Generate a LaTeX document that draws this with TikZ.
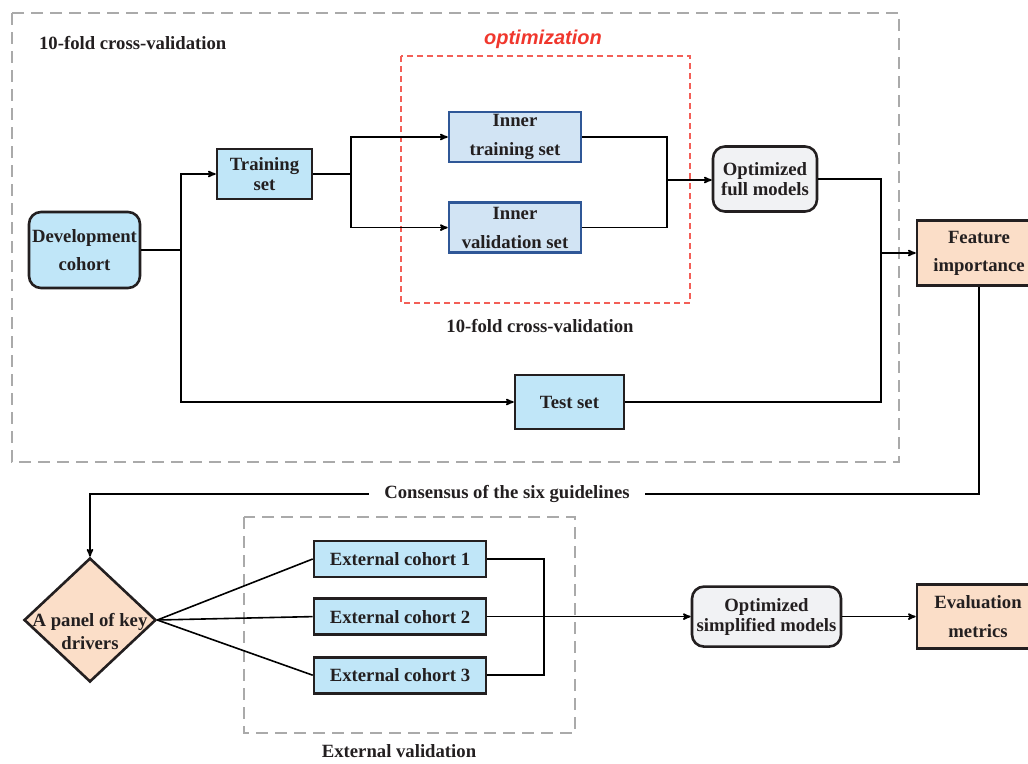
\documentclass[tikz,border=0pt]{standalone}
\usepackage{fontspec}
\setmainfont{Liberation Serif}
\newfontfamily\handfont{Liberation Sans}
\usetikzlibrary{arrows, positioning, shapes.geometric}

\definecolor{ink}{RGB}{35,31,32}
\definecolor{cellblue}{RGB}{192,230,248}
\definecolor{innerblue}{RGB}{210,228,244}
\definecolor{innerline}{RGB}{47,87,151}
\definecolor{modelgray}{RGB}{241,242,244}
\definecolor{peach}{RGB}{251,222,200}
\definecolor{framegray}{RGB}{170,170,170}
\definecolor{optred}{RGB}{240,55,45}

\begin{document}
\begin{tikzpicture}[x=1pt, y=-1pt, line width=1.6pt]
	\tikzset {->, >=stealth', draw=ink,
		every node/.style={text=ink, font=\fontsize{18.7}{20}\selectfont\bfseries, align=center},
		cellbox/.style={draw=ink, line width=2.6pt, fill=cellblue, inner sep=0pt},
		innerbox/.style={draw=innerline, line width=2.6pt, fill=innerblue, inner sep=0pt, minimum width=132pt, minimum height=50pt},
		modelbox/.style={draw=ink, line width=2.6pt, fill=modelgray, rounded corners=12pt, inner sep=0pt},
		resultbox/.style={draw=ink, line width=2.6pt, fill=peach, inner sep=0pt},
		extbox/.style={cellbox, minimum width=172pt, minimum height=36pt},
		frame/.style={-, draw=framegray, line width=2.2pt, dash pattern=on 12pt off 7pt},
		redframe/.style={-, draw=optred!80, line width=1.4pt, dash pattern=on 6pt off 4pt},
		wire/.style={-}
	}
	\useasboundingbox (0,0) rectangle (1028,763);

	% frames
	\draw[frame] (12,13) rectangle (899,462);
	\draw[redframe] (401,56) rectangle (690,303);
	\draw[frame] (244,517) rectangle (575,733);

	\node[anchor=west] (cvtop) at (35,43) {10-fold cross-validation};
	\node[text=optred, font=\handfont\fontsize{20}{22}\selectfont\bfseries\itshape] (optlbl) at (543,39) {optimization};
	\node (cvinner) at (540,326) {10-fold cross-validation};
	\node (extlbl) at (399,751) {External validation};

	% upper part
	\node[cellbox, rounded corners=12pt, minimum width=111pt, minimum height=76pt] (dev) at (84.5,250) {Development\\[8pt]cohort};
	\node[cellbox, minimum width=95pt, minimum height=50pt] (train) at (264.5,174) {Training\\set};
	\node[innerbox] (itrain) at (515,137) {Inner\\[9pt]training set};
	\node[innerbox, below=38pt of itrain] (ival) {Inner\\[9pt]validation set};
	\node[modelbox, minimum width=104pt, minimum height=65pt] (optfull) at (765,179) {Optimized\\full models};
	\node[resultbox, minimum width=124pt, minimum height=65pt] (feat) at (979,253) {Feature\\[8pt]importance};
	\node[cellbox, minimum width=109pt, minimum height=54pt] (test) at (569.5,402) {Test set};

	\coordinate (s1) at (181,250);
	\coordinate (s2) at (351,174);
	\coordinate (s3) at (667,180);
	\coordinate (s4) at (881,253);

	\draw[wire] (dev.east) -- (s1);
	\draw (s1) |- (train.west);
	\draw (s1) |- (test.west);
	\draw[wire] (train.east) -- (s2);
	\draw (s2) |- (itrain.west);
	\draw (s2) |- (ival.west);
	\draw[wire] (itrain.east) -| (s3);
	\draw[wire] (ival.east) -| (s3);
	\draw (s3) -- (optfull.west |- s3);
	\draw[wire] (optfull.east) -| (s4);
	\draw[wire] (test.east) -| (s4);
	\draw (s4) -- (feat.west);

	% lower part
	\node[inner xsep=15pt] (cons) at (507,494) {Consensus of the six guidelines};
	\node[diamond, draw=ink, line width=2.6pt, fill=peach, minimum width=132pt, minimum height=124pt, inner sep=0pt] (panel) at (90,620) {};
	\node (paneltxt) at (90,631) {A panel of key\\[3pt]drivers};
	\node[extbox] (ext1) at (400,559) {External cohort 1};
	\node[extbox, below=19pt of ext1] (ext2) {External cohort 2};
	\node[extbox, below=20pt of ext2] (ext3) {External cohort 3};
	\coordinate (colsimp) at (766.5,0);
	\coordinate (colmetric) at (978,0);
	\node[modelbox, minimum width=149pt, minimum height=60pt] (optsimp) at (ext2 -| colsimp) {Optimized\\simplified models};
	\node[resultbox, minimum width=122pt, minimum height=64pt] (evalm) at (ext2 -| colmetric) {Evaluation\\[9pt]metrics};

	\coordinate (colmerge) at (544,0);
	\coordinate (s5) at (ext2 -| colmerge);

	\draw[wire] (feat.south) |- (cons.east);
	\draw (cons.west) -| (panel.north);
	\draw[wire] (panel.east) -- (ext1.west);
	\draw[wire] (panel.east) -- (ext2.west);
	\draw[wire] (panel.east) -- (ext3.west);
	\draw[wire] (ext1.east) -| (s5);
	\draw[wire] (ext3.east) -| (s5);
	\draw (ext2.east) -- (optsimp.west);
	\draw (optsimp) -- (evalm);
\end{tikzpicture}
\end{document}
